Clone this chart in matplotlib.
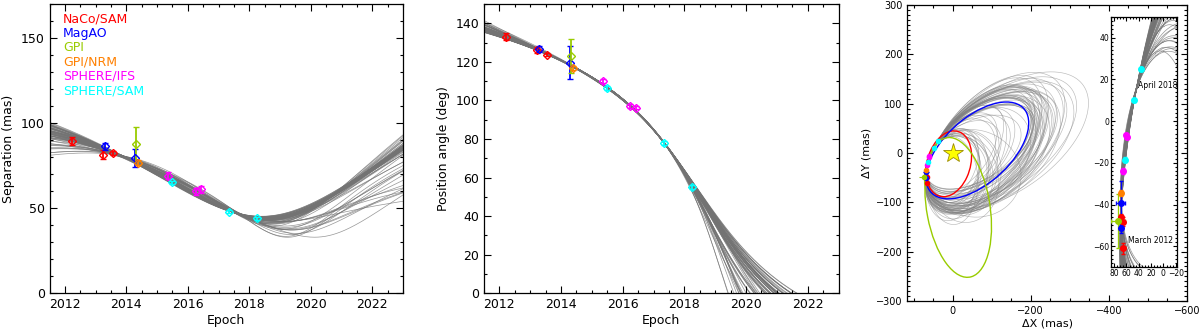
import numpy as np
import matplotlib
matplotlib.use('Agg')
import matplotlib.pyplot as plt
from matplotlib.patches import Ellipse
from matplotlib.ticker import MultipleLocator

plt.rcParams['font.family'] = 'DejaVu Sans'
plt.rcParams['font.size'] = 9

instruments = ['NaCo/SAM', 'MagAO', 'GPI', 'GPI/NRM', 'SPHERE/IFS', 'SPHERE/SAM']
inst_colors = ['#ff0000', '#0000ff', '#99cc00', '#ff8000', '#ff00ff', '#00ffff']

# astrometry of the companion
obs_epoch = [2012.22, 2013.23, 2013.55, 2013.30, 2014.29, 2014.32, 2014.38, 2015.37, 2016.25, 2016.44, 2015.50, 2017.35, 2018.26]
obs_sep = [89.5, 81.5, 82.5, 86.3, 79.5, 88.0, 76.8, 69.0, 60.0, 61.0, 65.2, 48.0, 44.0]
obs_sep_err = [2.5, 2.5, 1.0, 2.0, 5.5, 10.0, 1.5, 2.0, 2.0, 2.0, 1.0, 1.0, 1.0]
obs_pa = [133.0, 126.3, 123.8, 126.5, 119.5, 123.0, 116.6, 110.2, 97.2, 96.3, 106.5, 78.0, 55.3]
obs_pa_err = [1.8, 1.5, 1.0, 1.5, 8.5, 9.0, 1.0, 1.0, 1.0, 1.0, 1.0, 1.0, 1.0]
obs_inst = [0, 0, 0, 1, 1, 2, 3, 4, 4, 4, 5, 5, 5]

# orbit family: period (yr), eccentricity, periastron epoch, Thiele-Innes constants (mas)
orb_P = [178, 155, 155, 135, 162, 155, 141, 112, 129, 117, 123, 135, 123, 112, 141, 123, 123, 129, 107, 97,
         117, 129, 112, 117, 112, 123, 77, 84, 102, 77, 93, 93, 107, 112, 112,
         67, 97, 67, 70, 112, 70, 84, 81, 84, 97, 53, 64, 53, 73, 58, 44, 64, 46, 51, 42,
         58, 46, 53, 73, 58, 46, 46, 51, 36, 38, 35, 35, 33, 35, 33]
orb_e = [0.700, 0.675, 0.675, 0.650, 0.650, 0.650, 0.650, 0.625, 0.625, 0.625, 0.625, 0.625, 0.625, 0.600,
         0.600, 0.600, 0.600, 0.600, 0.600, 0.575, 0.600, 0.575, 0.575, 0.600, 0.575, 0.575, 0.550, 0.550,
         0.575, 0.550, 0.550, 0.575, 0.575, 0.550, 0.550,
         0.525, 0.550, 0.525, 0.525, 0.550, 0.525, 0.525, 0.525, 0.525, 0.575, 0.475, 0.450, 0.425, 0.425,
         0.350, 0.375, 0.425, 0.300, 0.375, 0.625, 0.600, 0.500, 0.500, 0.625, 0.550, 0.575, 0.525, 0.525,
         0.525, 0.400, 0.475, 0.525, 0.450, 0.500, 0.325]
orb_tp = [2016.0, 2016.0, 2016.2, 2016.0, 2016.0, 2016.2, 2016.5, 2016.1, 2016.1, 2016.3, 2016.4, 2016.5,
          2016.7, 2016.1, 2016.0, 2016.2, 2016.3, 2016.4, 2016.6, 2016.0, 2016.7, 2016.0, 2016.1, 2016.9,
          2016.3, 2016.3, 2016.0, 2016.0, 2016.6, 2016.3, 2016.1, 2016.8, 2016.8, 2016.1, 2016.2,
          2016.0, 2016.4, 2016.1, 2016.1, 2016.5, 2016.2, 2016.0, 2016.1, 2016.1, 2017.3, 2016.6, 2016.6,
          2016.9, 2017.5, 2016.4, 2017.5, 2018.6, 2016.8, 2018.4, 2019.8, 2019.1, 2020.5, 2019.8, 2018.3,
          2018.9, 2019.1, 2019.3, 2018.9, 2019.6, 2020.4, 2019.8, 2019.1, 2019.8, 2019.0, 2020.5]
orb_A = [199, 184, 179, 172, 167, 164, 159, 160, 157, 155, 151, 147, 144, 148, 145, 144, 142, 139, 138, 142,
         134, 137, 137, 130, 134, 132, 138, 136, 129, 133, 132, 126, 124, 128, 127,
         133, 126, 131, 130, 122, 128, 127, 126, 125, 114, 111, 101, 93, 80, 87, 74, 58, 76, 55, -2,
         42, -2, 22, 86, 51, 31, 27, 46, 5, -1, 2, 19, 1, 24, -5]
orb_B = [-37, -35, -25, -32, -31, -23, -9, -26, -26, -18, -13, -9, 0, -24, -27, -20, -16, -12, -4, -27,
         0, -26, -22, 8, -15, -15, -26, -26, -4, -15, -22, 3, 4, -21, -17,
         -25, -11, -22, -21, -7, -18, -24, -21, -21, 22, -4, -3, 5, 22, -7, 20, 50, 2, 42, 89,
         84, 91, 84, 66, 72, 76, 75, 68, 74, 77, 72, 67, 69, 63, 70]
orb_F = [-87, -80, -85, -73, -84, -86, -88, -68, -74, -75, -79, -85, -86, -68, -78, -75, -77, -81, -78, -60,
         -83, -74, -69, -87, -73, -77, -52, -55, -75, -60, -61, -77, -81, -69, -71,
         -49, -69, -51, -52, -76, -55, -56, -57, -58, -87, -59, -59, -61, -74, -53, -67, -82, -53, -76, -85,
         -104, -79, -89, -110, -98, -98, -91, -94, -83, -75, -79, -89, -77, -89, -71]
orb_G = [187, 171, 172, 156, 184, 177, 163, 137, 155, 143, 149, 162, 149, 141, 173, 153, 154, 160, 136, 127,
         147, 165, 145, 147, 145, 158, 107, 115, 134, 108, 126, 123, 140, 149, 149,
         97, 132, 97, 101, 150, 101, 118, 115, 118, 126, 85, 101, 88, 114, 101, 76, 93, 86, 80, -10,
         42, 14, 42, 76, 58, 28, 34, 51, 8, 20, 12, 18, 12, 24, 19]

# published orbit solutions drawn on the sky: centre, full axes, angle
ell_colors = ['#ff0000', '#0000ff', '#99cc00']
ell_cx = [9.8, -63.4, -14.3]
ell_cy = [-21.9, 5.2, -110.3]
ell_w = [141.0, 294.6, 289.0]
ell_h = [107.4, 144.5, 161.0]
ell_ang = [120.0, 148.8, 76.4]


def orbit_xy(P, e, tp, A, B, F, G, epochs=None):
    if epochs is None:
        E = np.linspace(0, 2*np.pi, 400)
    else:
        M = 2*np.pi*(epochs - tp)/P
        E = M.copy()
        for _ in range(60):
            E = E - (E - e*np.sin(E) - M)/(1 - e*np.cos(E))
    X = np.cos(E) - e
    Y = np.sqrt(1 - e**2)*np.sin(E)
    return A*X + F*Y, B*X + G*Y


def style(ax, lsize=9, major=5, minor=2.5):
    ax.tick_params(which='both', direction='in', top=True, right=True, labelsize=lsize, width=0.8)
    ax.tick_params(which='major', length=major)
    ax.tick_params(which='minor', length=minor)
    for sp in ax.spines.values():
        sp.set_linewidth(0.9)


epoch_grid = np.linspace(2011.5, 2023.0, 500)
W, H = 1200, 331
fig = plt.figure(figsize=(12, 3.31), dpi=100)
ax1 = fig.add_axes([49.5/W, 1 - 293.3/H, 353.5/W, 289.3/H])
ax2 = fig.add_axes([484/W, 1 - 293.3/H, 354.5/W, 289.3/H])
ax3 = fig.add_axes([907.3/W, 1 - 301/H, 279.7/W, 296/H])
ax4 = fig.add_axes([1111/W, 1 - 267/H, 66/W, 250/H])

gray = dict(color='0.45', lw=0.5, alpha=0.75, zorder=1)
light = dict(color='0.5', lw=0.45, alpha=0.55, zorder=1)
for i in range(len(orb_P)):
    el = (orb_P[i], orb_e[i], orb_tp[i], orb_A[i], orb_B[i], orb_F[i], orb_G[i])
    x, y = orbit_xy(*el, epochs=epoch_grid)
    ax1.plot(epoch_grid, np.hypot(x, y), **gray)
    ax2.plot(epoch_grid, np.degrees(np.arctan2(x, y)), **gray)
    x, y = orbit_xy(*el)
    ax3.plot(x, y, **light)
    ax4.plot(x, y, **gray)

for k in range(3):
    ax3.add_patch(Ellipse((ell_cx[k], ell_cy[k]), ell_w[k], ell_h[k], angle=ell_ang[k],
                          fill=False, ec=ell_colors[k], lw=1.0, zorder=3))

sep = np.array(obs_sep); pa = np.radians(obs_pa)
sep_e = np.array(obs_sep_err); pa_e = np.radians(obs_pa_err)
obs_x = sep*np.sin(pa); obs_y = sep*np.cos(pa)
obs_xe = np.hypot(np.sin(pa)*sep_e, sep*np.cos(pa)*pa_e)
obs_ye = np.hypot(np.cos(pa)*sep_e, sep*np.sin(pa)*pa_e)

for i in range(len(obs_epoch)):
    c = inst_colors[obs_inst[i]]
    ax1.errorbar(obs_epoch[i], obs_sep[i], yerr=obs_sep_err[i], fmt='D', ms=4.5, mfc='none', mec=c,
                 mew=1.0, ecolor=c, elinewidth=1.3, capsize=2, capthick=1.0, zorder=5)
    ax2.errorbar(obs_epoch[i], obs_pa[i], yerr=obs_pa_err[i], fmt='D', ms=4.5, mfc='none', mec=c,
                 mew=1.0, ecolor=c, elinewidth=1.3, capsize=2, capthick=1.0, zorder=5)
    ax3.errorbar(obs_x[i], obs_y[i], xerr=obs_xe[i], yerr=obs_ye[i], fmt='o', ms=3, mfc=c, mec=c,
                 ecolor=c, elinewidth=0.8, capsize=0, zorder=5)
    ax4.errorbar(obs_x[i], obs_y[i], xerr=obs_xe[i], yerr=obs_ye[i], fmt='o', ms=4, mfc=c, mec=c,
                 ecolor=c, elinewidth=0.9, capsize=1.2, zorder=5)

ax3.plot(0, 0, marker='*', ms=15, mfc='#ffff00', mec='#9a8a00', mew=0.6, zorder=6)

for k, name in enumerate(instruments):
    ax1.text(0.038, 0.948 - k*0.0495, name, color=inst_colors[k], transform=ax1.transAxes,
             fontsize=9, va='center', ha='left')

ax1.set_xlim(2011.5, 2023.0)
ax1.set_ylim(0, 170)
ax1.xaxis.set_major_locator(MultipleLocator(2))
ax1.xaxis.set_minor_locator(MultipleLocator(0.5))
ax1.yaxis.set_major_locator(MultipleLocator(50))
ax1.yaxis.set_minor_locator(MultipleLocator(10))
ax1.set_xlabel('Epoch', labelpad=2)
ax1.set_ylabel('Separation (mas)', labelpad=4)
style(ax1)

ax2.set_xlim(2011.5, 2023.0)
ax2.set_ylim(0, 150)
ax2.xaxis.set_major_locator(MultipleLocator(2))
ax2.xaxis.set_minor_locator(MultipleLocator(0.5))
ax2.yaxis.set_major_locator(MultipleLocator(20))
ax2.yaxis.set_minor_locator(MultipleLocator(10))
ax2.set_xlabel('Epoch', labelpad=2)
ax2.set_ylabel('Position angle (deg)', labelpad=4)
style(ax2)

ax3.set_xlim(116, -600)
ax3.set_ylim(-300, 300)
ax3.xaxis.set_major_locator(MultipleLocator(200))
ax3.xaxis.set_minor_locator(MultipleLocator(50))
ax3.yaxis.set_major_locator(MultipleLocator(100))
ax3.yaxis.set_minor_locator(MultipleLocator(10))
ax3.set_xlabel('ΔX (mas)', fontsize=8, labelpad=2)
ax3.set_ylabel('ΔY (mas)', fontsize=8, labelpad=3)
style(ax3, lsize=7, major=4, minor=2)

ax4.set_xlim(85, -22)
ax4.set_ylim(-70, 50)
ax4.xaxis.set_major_locator(MultipleLocator(20))
ax4.xaxis.set_minor_locator(MultipleLocator(5))
ax4.yaxis.set_major_locator(MultipleLocator(20))
ax4.yaxis.set_minor_locator(MultipleLocator(2))
style(ax4, lsize=5.5, major=3, minor=1.5)
ax4.tick_params(pad=1.5)
ax4.text(0.714, 0.724, 'April 2018', transform=ax4.transAxes, fontsize=5.5, ha='center', va='center')
ax4.text(0.596, 0.105, 'March 2012', transform=ax4.transAxes, fontsize=5.5, ha='center', va='center')
ax4.set_facecolor('white')

fig.savefig('out.png', dpi=100)
